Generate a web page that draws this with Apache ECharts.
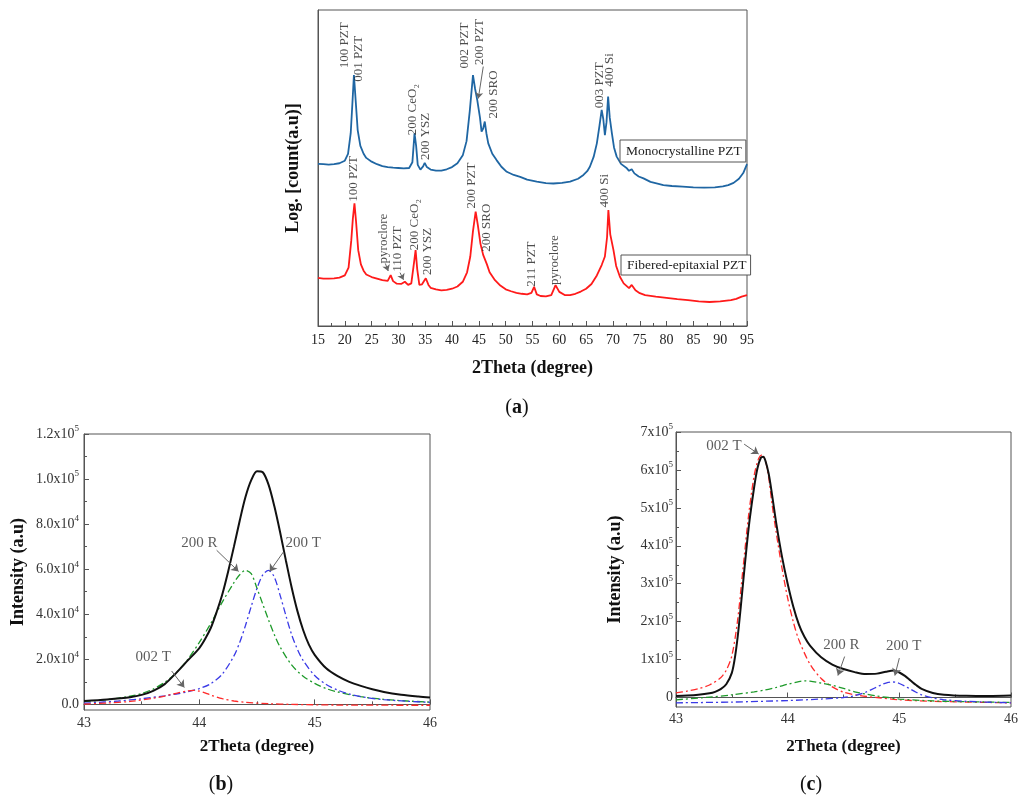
<!DOCTYPE html>
<html><head><meta charset="utf-8">
<script src="https://cdn.jsdelivr.net/npm/echarts@6/dist/echarts.min.js"></script>
<style>html,body{margin:0;padding:0;background:#fff}#c{width:1021px;height:798px}</style>
</head><body><div id="c"></div>
<script>
// ---------- Panel (a): XRD scans (log counts, arbitrary units) ----------
const aMonoX = [15,16,17,18,19,20,20.6,21.1,21.4,21.7,22.0,22.4,22.9,23.5,24,25,26,27,28,29,30,31,32,32.6,33.0,33.3,33.6,34.1,34.6,34.9,35.3,36,37,38,39,40,41,42,42.7,43.3,43.9,44.3,44.7,44.9,45.2,45.5,45.8,46.1,46.4,46.75,47.5,48.3,49.2,50.2,51.5,52.7,54,55.8,57.5,58.9,60.5,62,63.5,64.5,65.2,65.7,66.4,67,67.5,67.9,68.2,68.5,68.8,69.1,69.4,69.8,70.2,70.7,71.5,72.6,73.0,73.5,74,74.8,75.7,77,78.5,79.4,81,83,85,87,89,90.5,91.5,92.5,93.5,94.3,95];
const aMonoY = [51.3,51.2,51.1,51.2,51.5,52.3,54.5,61,70,79.4,72,62,57,54.5,53.2,52,51.2,50.6,50.3,50.1,50,49.9,50,51.8,61,57,51,49.5,50.5,51.6,50.3,49.5,49.2,49.2,49.6,50.3,51.5,54,58.5,68,79.4,75,71.5,71.5,66,61.5,62.5,64.7,61,57.8,54.5,52.5,50.4,48.8,47.8,47.2,46.3,45.7,45.2,45.1,45.3,45.7,46.6,47.8,49,50.4,53.5,57.8,63.5,68.4,65.5,60.4,64.5,72.6,66,61,56.5,53.6,51.3,49.9,49.1,49.6,48.3,47.3,46.7,45.6,45,44.6,44.3,44.1,43.9,43.8,43.9,44.2,44.6,45.3,46.6,48.4,51.2];
const aFibX = [15,16,17,18,19,20,20.7,21.2,21.5,21.8,22.1,22.5,23,23.5,24,25,26,27,28,28.55,29,29.7,30.5,31.2,31.8,32.4,32.9,33.2,33.5,33.9,34.4,35.1,35.6,36,37,38,39,40,41,42,42.8,43.4,43.9,44.4,44.8,45.3,45.8,46.1,46.5,47,48,49,50,51,52,53,54,54.8,55.3,55.8,56.5,57.5,58.5,59.3,60,61,62,63,64,65,66,67,67.9,68.5,68.9,69.15,69.5,70.1,70.6,71.3,72,73,73.5,74.2,75,76,78,80,82,84,86,88,90,92,93,94,95];
const aFibY = [15.2,15.0,15.0,15.1,15.3,16.0,18.5,27,34,38.8,33,24,19.5,17.5,16.3,15.5,15.0,14.5,14.3,16.1,14.2,13.4,13.3,14.0,13.0,13.5,20,24,18,13,13.2,15.1,13,12.1,11.6,11.3,11.4,11.8,12.5,14,17,22,30,36.2,32,26,22.5,21.9,19.5,17,14.5,12.8,11.6,11,10.5,10.2,10.0,10.5,12.4,10,9.5,9.4,9.8,12.9,10.8,9.8,9.8,10.2,10.9,11.8,13.3,16,19.3,22,28,36.7,29,24,19,15.6,13.5,12,13,11.3,10.4,9.8,9.3,8.9,8.5,8.2,7.8,7.6,7.8,8.2,8.6,9.3,9.8];
const aXTicks = {min:15, max:95, step:5};
const aMonoPeaks = [['100 PZT',20.0,81.6],['001 PZT',22.5,77.3],['200 CeO\u2082',32.6,60.4],['200 YSZ',35.1,52.5],['002 PZT',42.4,81.5],['200 PZT',45.2,82.6],['200 SRO',47.7,65.7],['003 PZT',67.5,68.9],['400 Si',69.45,75.7]];
const aFibPeaks = [['100 PZT',21.6,39.3],['pyroclore',27.2,19.8],['110 PZT',29.8,17.2],['200 CeO\u2082',33.1,24],['200 YSZ',35.4,16.1],['200 PZT',43.65,37.2],['200 SRO',46.45,23.5],['211 PZT',54.85,12.4],['pyroclore',59.2,13],['400 Si',68.5,37.5]];
const aArrows = [[[45.82,82.1],[44.89,72]],[[27.55,19.8],[28.1,17.4]],[[30.3,16.9],[30.95,14.6]]];

// ---------- Panel (b): fit of the 200 region, fibered film ----------
const bX_exp = [43.0,43.2,43.4,43.5,43.6,43.7,43.8,43.9,44.0,44.05,44.1,44.15,44.2,44.25,44.3,44.35,44.4,44.45,44.5,44.55,44.6,44.65,44.7,44.75,44.8,44.85,44.9,44.95,45.0,45.1,45.2,45.3,45.4,45.5,45.6,45.75,45.9,46.0];
const bY_exp = [1500,2200,3200,4200,6000,9000,14000,19500,25000,29000,34000,41000,49000,59000,70000,81500,92000,99500,103500,103000,97500,88000,76500,64000,52000,41500,33000,26500,22000,16000,12500,10000,8200,6700,5500,4300,3500,3100];
const bX_200R = [43.0,43.2,43.4,43.5,43.6,43.7,43.8,43.9,44.0,44.1,44.2,44.3,44.35,44.4,44.45,44.5,44.55,44.6,44.65,44.7,44.8,44.9,45.0,45.1,45.2,45.3,45.4,45.6,45.8,46.0];
const bY_200R = [1200,2100,3600,4800,6800,9800,14000,20000,27500,36000,45500,54000,57500,59500,58000,51500,44500,37500,31000,25500,17500,12500,9300,7000,5500,4300,3400,2200,1500,1000];
const bX_200T = [43.0,43.3,43.5,43.7,43.8,43.9,44.0,44.1,44.2,44.3,44.35,44.4,44.45,44.5,44.55,44.6,44.65,44.7,44.75,44.8,44.85,44.9,45.0,45.1,45.2,45.3,45.45,45.6,45.8,46.0];
const bY_200T = [500,1500,2500,3800,4600,5600,7000,9200,13500,21500,27500,35000,43500,51500,57500,59500,56500,48500,39500,31000,24500,19500,12800,8800,6300,4600,3000,2100,1400,900];
const bX_002T = [43.0,43.2,43.4,43.6,43.7,43.8,43.9,43.95,44.0,44.05,44.1,44.2,44.3,44.4,44.6,44.8,45.2,46.0];
const bY_002T = [100,600,1300,2700,3700,4900,6000,6200,5900,5100,4100,2500,1500,900,300,0,-300,-400];
const bYTicks = [0,20000,40000,60000,80000,100000,120000];
const bYMinor = [10000,30000,50000,70000,90000,110000];
const bNotes = [['200 R',44.0,71500],['200 T',44.9,71400],['002 T',43.6,21000]];
const bArrows = [[[44.15,68400],[44.34,59000]],[[44.73,67700],[44.61,59000]],[[43.76,14800],[43.87,7500]]];

// ---------- Panel (c): fit of the 200 region, monocrystalline film ----------
const cX_exp = [43.0,43.1,43.2,43.3,43.35,43.4,43.45,43.5,43.53,43.56,43.6,43.63,43.66,43.7,43.73,43.76,43.78,43.8,43.83,43.86,43.9,43.95,44.0,44.05,44.1,44.15,44.2,44.3,44.4,44.5,44.6,44.7,44.8,44.88,44.95,45.0,45.05,45.1,45.15,45.2,45.3,45.4,45.6,45.8,46.0];
const cY_exp = [4000,5000,7000,11000,15000,22000,35000,65000,110000,180000,300000,390000,470000,555000,605000,632000,635000,625000,590000,535000,455000,370000,300000,240000,193000,160000,137000,106000,87000,75000,67000,62000,63000,68000,71000,66000,57000,45000,33000,23000,12000,7500,4500,3800,5000];
const cX_002T = [43.0,43.1,43.2,43.3,43.4,43.45,43.5,43.55,43.6,43.65,43.7,43.74,43.77,43.8,43.83,43.86,43.9,43.95,44.0,44.05,44.1,44.2,44.3,44.4,44.5,44.65,44.8,45.0,45.3,46.0];
const cY_002T = [12000,17000,23000,33000,52000,72000,110000,200000,340000,480000,585000,630000,640000,625000,580000,510000,430000,340000,262000,200000,152000,88000,50000,28000,14000,5000,0,-6000,-10000,-14000];
const cX_200R = [43.0,43.3,43.5,43.7,43.8,43.9,44.0,44.1,44.15,44.2,44.3,44.4,44.5,44.6,44.7,44.8,44.9,45.0,45.3,45.6,46.0];
const cY_200R = [-6000,1000,7000,15000,20000,27000,35000,42000,44000,43000,38000,32000,24000,15000,9000,4000,0,-4000,-9000,-11000,-13000];
const cX_200T = [43.0,43.5,44.0,44.3,44.5,44.6,44.7,44.75,44.8,44.85,44.9,44.93,44.97,45.0,45.05,45.1,45.15,45.2,45.3,45.4,45.6,46.0];
const cY_200T = [-14000,-12000,-8000,-4000,0,5000,14000,21000,28000,35000,40000,41000,40000,37000,30000,22000,14000,7000,-1000,-6000,-10000,-14000];
const cYTicks = [0,100000,200000,300000,400000,500000,600000,700000];
const cYMinor = [50000,150000,250000,350000,450000,550000,650000];
const cNotes = [['002 T',43.43,664000],['200 R',44.48,139000],['200 T',45.04,135000]];
const cArrows = [[[43.61,668000],[43.74,642000]],[[44.51,108000],[44.45,58000]],[[45.0,104000],[44.96,58000]]];

// ---------- build ----------
const zip = (xs, ys) => xs.map((x, i) => [x, ys[i]]);
const SERIF = '"Liberation Serif","DejaVu Serif",serif';
const AX = '#555';
const dashDot = [7, 3, 2, 3];

function supLabel(fmt) {
  return {
    fontFamily: SERIF, fontSize: 14, color: '#333', margin: 5,
    formatter: fmt,
    rich: { s: { fontFamily: SERIF, fontSize: 9, color: '#333', padding: [0, 0, 10, 0] } }
  };
}
const fmtB = v => {
  if (v === 0) return '0.0';
  const e = Math.floor(Math.log10(v) + 1e-9);
  return (v / Math.pow(10, e)).toFixed(1) + 'x10{s|' + e + '}';
};
const fmtC = v => v === 0 ? '0' : Math.round(v / 1e5) + 'x10{s|5}';

function textSeries(list, xi, yi, rotated) {
  return {
    type: 'scatter', xAxisIndex: xi, yAxisIndex: yi, symbolSize: 0, silent: true, z: 10,
    data: list.map(d => ({ name: d[0], value: [d[1], d[2]] })),
    label: rotated ? {
      show: true, formatter: '{b}', rotate: 90, position: [0, 0], align: 'left', verticalAlign: 'middle',
      fontFamily: SERIF, fontSize: 13, color: '#222'
    } : {
      show: true, formatter: '{b}', position: [0, 0], align: 'center', verticalAlign: 'middle',
      fontFamily: SERIF, fontSize: 15, color: '#333'
    }
  };
}
function arrowSeries(list, xi, yi, size) {
  return {
    type: 'line', xAxisIndex: xi, yAxisIndex: yi, data: [], silent: true, z: 9,
    markLine: {
      silent: true, animation: false, symbol: ['none', 'arrow'], symbolSize: size,
      label: { show: false }, lineStyle: { color: '#666', width: 1, type: 'solid' },
      data: list.map(a => [{ coord: a[0] }, { coord: a[1] }])
    }
  };
}
function fitLine(name, xs, ys, color, xi, yi) {
  return { name, type: 'line', xAxisIndex: xi, yAxisIndex: yi, data: zip(xs, ys), showSymbol: false,
    smooth: 0.3, lineStyle: { color, width: 1.3, type: dashDot }, z: 3 };
}

const tickStyle = { show: true, inside: true, length: 5, lineStyle: { color: AX } };
const minorStyle = { show: true, splitNumber: 2, length: 3, lineStyle: { color: AX } };
const axisLine = { show: true, lineStyle: { color: AX, width: 1 } };
const nameBold = size => ({ fontFamily: SERIF, fontSize: size, fontWeight: 'bold', color: '#111' });
const letterStyle = t => ({ text: '({b|' + t + '})', align: 'center', verticalAlign: 'middle',
  font: '20px ' + SERIF, fill: '#111', rich: { b: { fontFamily: SERIF, fontSize: 20, fontWeight: 'bold', fill: '#111' } } });

const option = {
  animation: false,
  backgroundColor: '#fff',
  grid: [
    { left: 318, top: 10, width: 429, height: 316, show: true, borderColor: AX, borderWidth: 1 },
    { left: 84, top: 434, width: 346, height: 276, show: true, borderColor: AX, borderWidth: 1 },
    { left: 676, top: 432, width: 340, height: 275, show: true, borderColor: AX, borderWidth: 1 }
  ],
  xAxis: [
    { type: 'value', gridIndex: 0, min: aXTicks.min, max: aXTicks.max, interval: aXTicks.step,
      axisLine, axisTick: tickStyle, minorTick: minorStyle, splitLine: { show: false },
      axisLabel: { fontFamily: SERIF, fontSize: 14, color: '#222', margin: 7 },
      name: '2Theta (degree)', nameLocation: 'middle', nameGap: 33, nameTextStyle: nameBold(18) },
    { type: 'value', gridIndex: 1, min: 43, max: 46, interval: 1,
      axisLine, axisTick: tickStyle, minorTick: minorStyle, splitLine: { show: false },
      axisLabel: { fontFamily: SERIF, fontSize: 14, color: '#333', margin: 6 },
      name: '2Theta (degree)', nameLocation: 'middle', nameGap: 28, nameTextStyle: nameBold(17) },
    { type: 'value', gridIndex: 2, min: 43, max: 46, interval: 1,
      axisLine, axisTick: tickStyle, minorTick: minorStyle, splitLine: { show: false },
      axisLabel: { fontFamily: SERIF, fontSize: 14, color: '#333', margin: 5 },
      name: '2Theta (degree)', nameLocation: 'middle', nameGap: 31, nameTextStyle: nameBold(17) }
  ],
  yAxis: [
    { type: 'value', gridIndex: 0, min: 0, max: 100, axisLine, axisTick: { show: false },
      axisLabel: { show: false }, splitLine: { show: false },
      name: 'Log. [count(a.u)]', nameLocation: 'middle', nameGap: 16, nameTextStyle: nameBold(18) },
    { type: 'value', gridIndex: 1, position: 'left', min: -2500, max: 120000, axisLine,
      axisTick: Object.assign({}, tickStyle, { customValues: bYTicks }),
      axisLabel: Object.assign(supLabel(fmtB), { customValues: bYTicks }),
      splitLine: { show: false },
      name: 'Intensity (a.u)', nameLocation: 'middle', nameGap: 57, nameTextStyle: nameBold(18) },
    { type: 'value', gridIndex: 1, position: 'left', min: -2500, max: 120000, axisLine: { show: false },
      axisTick: { show: true, inside: true, length: 3, lineStyle: { color: AX }, customValues: bYMinor },
      axisLabel: { show: false }, splitLine: { show: false } },
    { type: 'value', gridIndex: 2, position: 'left', min: -25000, max: 700000, axisLine,
      axisTick: Object.assign({}, tickStyle, { customValues: cYTicks }),
      axisLabel: Object.assign(supLabel(fmtC), { customValues: cYTicks, margin: 3 }),
      splitLine: { show: false },
      name: 'Intensity (a.u)', nameLocation: 'middle', nameGap: 52, nameTextStyle: nameBold(18) },
    { type: 'value', gridIndex: 2, position: 'left', min: -25000, max: 700000, axisLine: { show: false },
      axisTick: { show: true, inside: true, length: 3, lineStyle: { color: AX }, customValues: cYMinor },
      axisLabel: { show: false }, splitLine: { show: false } }
  ],
  legend: [
    { data: ['Monocrystalline PZT'], left: 620, top: 140, orient: 'horizontal', itemWidth: 0, itemHeight: 0, itemGap: 0,
      padding: [4, 4, 4, 0], borderColor: AX, borderWidth: 1, backgroundColor: '#fff', selectedMode: false,
      textStyle: { fontFamily: SERIF, fontSize: 13.5, color: '#222' } },
    { data: ['Fibered-epitaxial PZT'], left: 621, top: 255, orient: 'horizontal', itemWidth: 0, itemHeight: 0, itemGap: 0,
      padding: [3, 4, 3, 0], borderColor: AX, borderWidth: 1, backgroundColor: '#fff', selectedMode: false,
      textStyle: { fontFamily: SERIF, fontSize: 13.5, color: '#222' } }
  ],
  graphic: [
    { type: 'text', x: 517, y: 408, style: letterStyle('a') },
    { type: 'text', x: 221, y: 785, style: letterStyle('b') },
    { type: 'text', x: 811, y: 785, style: letterStyle('c') }
  ],
  series: [
    { name: 'Monocrystalline PZT', type: 'line', xAxisIndex: 0, yAxisIndex: 0, data: zip(aMonoX, aMonoY),
      showSymbol: false, lineStyle: { color: '#1f66a3', width: 1.8 }, itemStyle: { color: '#1f66a3' } },
    { name: 'Fibered-epitaxial PZT', type: 'line', xAxisIndex: 0, yAxisIndex: 0, data: zip(aFibX, aFibY),
      showSymbol: false, lineStyle: { color: '#ff1a1a', width: 1.8 }, itemStyle: { color: '#ff1a1a' } },
    textSeries(aMonoPeaks, 0, 0, true),
    textSeries(aFibPeaks, 0, 0, true),
    arrowSeries(aArrows, 0, 0, 6),

    { name: 'b-exp', type: 'line', xAxisIndex: 1, yAxisIndex: 1, data: zip(bX_exp, bY_exp), showSymbol: false,
      smooth: 0.3, lineStyle: { color: '#111', width: 2 }, z: 4 },
    fitLine('b-200R', bX_200R, bY_200R, '#1e9a2a', 1, 1),
    fitLine('b-200T', bX_200T, bY_200T, '#3a3ae6', 1, 1),
    fitLine('b-002T', bX_002T, bY_002T, '#ff2a2a', 1, 1),
    textSeries(bNotes, 1, 1, false),
    arrowSeries(bArrows, 1, 1, 7),

    { name: 'c-exp', type: 'line', xAxisIndex: 2, yAxisIndex: 3, data: zip(cX_exp, cY_exp), showSymbol: false,
      smooth: 0.3, lineStyle: { color: '#111', width: 2 }, z: 4 },
    fitLine('c-002T', cX_002T, cY_002T, '#ff2a2a', 2, 3),
    fitLine('c-200R', cX_200R, cY_200R, '#1e9a2a', 2, 3),
    fitLine('c-200T', cX_200T, cY_200T, '#3a3ae6', 2, 3),
    textSeries(cNotes, 2, 3, false),
    arrowSeries(cArrows, 2, 3, 7)
  ]
};
const chart = echarts.init(document.getElementById('c'), null, { renderer: 'canvas' });
chart.setOption(option);
</script>
</body></html>
